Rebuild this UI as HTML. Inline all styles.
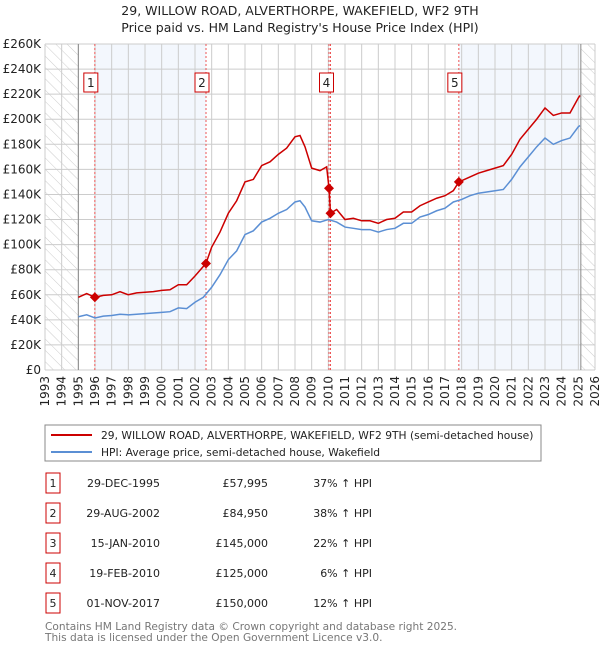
<!DOCTYPE html>
<html><head><meta charset="utf-8"><style>
body{margin:0;background:#fff;font-family:"Liberation Sans","DejaVu Sans",sans-serif;}
svg text{font-family:"DejaVu Sans","Liberation Sans",sans-serif;}
</style></head><body>
<svg id="c" width="600" height="650" xmlns="http://www.w3.org/2000/svg">
<defs><pattern id="hatch" width="8" height="8" patternUnits="userSpaceOnUse" patternTransform="rotate(-45)"><line x1="0" y1="0" x2="0" y2="8" stroke="#ccc" stroke-width="1"/></pattern></defs>
<text x="300" y="15" text-anchor="middle" font-size="12.5" fill="#222">29, WILLOW ROAD, ALVERTHORPE, WAKEFIELD, WF2 9TH</text>
<text x="300" y="32" text-anchor="middle" font-size="12.5" fill="#222">Price paid vs. HM Land Registry's House Price Index (HPI)</text>
<g id="plot"></g>
<rect x="45" y="425" width="496" height="36" fill="#fff" stroke="#888"/>
<line x1="51" y1="435" x2="92" y2="435" stroke="#cc0000" stroke-width="2"/>
<text x="101" y="439" font-size="10.7" fill="#222">29, WILLOW ROAD, ALVERTHORPE, WAKEFIELD, WF2 9TH (semi-detached house)</text>
<line x1="51" y1="452" x2="92" y2="452" stroke="#5b8fd4" stroke-width="2"/>
<text x="101" y="456" font-size="10.7" fill="#222">HPI: Average price, semi-detached house, Wakefield</text>
<g id="table"></g>
<text x="45" y="630" font-size="10.6" fill="#777">Contains HM Land Registry data © Crown copyright and database right 2025.</text>
<text x="45" y="641" font-size="10.6" fill="#777">This data is licensed under the Open Government Licence v3.0.</text>
</svg>
<script>
const hpiYears=[1995,1995.5,1996,1996.5,1997,1997.5,1998,1998.5,1999,1999.5,2000,2000.5,2001,2001.5,2002,2002.5,2003,2003.5,2004,2004.5,2005,2005.5,2006,2006.5,2007,2007.5,2008,2008.3,2008.6,2009,2009.5,2010,2010.5,2011,2011.5,2012,2012.5,2013,2013.5,2014,2014.5,2015,2015.5,2016,2016.5,2017,2017.5,2018,2018.5,2019,2019.5,2020,2020.5,2021,2021.5,2022,2022.5,2023,2023.5,2024,2024.5,2025,2025.1];
const hpiValues=[42.5,44,41.5,43,43.5,44.5,44,44.5,45,45.5,46,46.5,49.5,49,54,58,66,76,88,95,108,111,118,121,125,128,134,135,130,119,118,120,118,114,113,112,112,110,112,113,117,117,122,124,127,129,134,136,139,141,142,143,144,152,162,170,178,185,180,183,185,194,195];
const priceYears=[1995,1995.5,1996,1996.5,1997,1997.5,1998,1998.5,1999,1999.5,2000,2000.5,2001,2001.5,2002,2002.66,2003,2003.5,2004,2004.5,2005,2005.5,2006,2006.5,2007,2007.5,2008,2008.3,2008.6,2009,2009.5,2009.9,2010.04,2010.13,2010.5,2011,2011.5,2012,2012.5,2013,2013.5,2014,2014.5,2015,2015.5,2016,2016.5,2017,2017.5,2017.83,2018.5,2019,2019.5,2020,2020.5,2021,2021.5,2022,2022.5,2023,2023.5,2024,2024.5,2025,2025.1];
const priceValues=[58,61,58,59.5,60,62.5,60,61.5,62,62.5,63.5,64,68,68,75,85,98,110,125,135,150,152,163,166,172,177,186,187,178,161,159,162,145,125,128,120,121,119,119,117,120,121,126,126,131,134,137,139,143,150,154,157,159,161,163,172,184,192,200,209,203,205,205,217,219];
const saleLabels=["1","2","3","4","5"];
const saleDates=["29-DEC-1995","29-AUG-2002","15-JAN-2010","19-FEB-2010","01-NOV-2017"];
const saleYears=[1995.99,2002.66,2010.04,2010.13,2017.83];
const salePrices=[57.995,84.95,145,125,150];
const salePriceText=["£57,995","£84,950","£145,000","£125,000","£150,000"];
const saleHpiText=["37% ↑ HPI","38% ↑ HPI","22% ↑ HPI","6% ↑ HPI","12% ↑ HPI"];
const yTicks=[0,20,40,60,80,100,120,140,160,180,200,220,240,260];
const yTickLabels=["£0","£20K","£40K","£60K","£80K","£100K","£120K","£140K","£160K","£180K","£200K","£220K","£240K","£260K"];
const xTicks=[];for(let y=1993;y<=2026;y++)xTicks.push(y);

const X0=45,X1=595,Y0=370,Y1=44;
const xs=y=>X0+(y-1993)/(2026-1993)*(X1-X0);
const ys=v=>Y0-v/260*(Y0-Y1);
const NS="http://www.w3.org/2000/svg";
const plot=document.getElementById('plot');
function mk(tag,attrs,parent){const e=document.createElementNS(NS,tag);for(const k in attrs)e.setAttribute(k,attrs[k]);(parent||plot).appendChild(e);return e;}

let r;
r=mk('rect',{x:xs(saleYears[0]),y:Y1,width:xs(saleYears[1])-xs(saleYears[0]),height:Y0-Y1,fill:'#eef3fc',opacity:0.7});


r=mk('rect',{x:xs(saleYears[4]),y:Y1,width:xs(2025.1)-xs(saleYears[4]),height:Y0-Y1,fill:'#eef3fc',opacity:0.7});


r=mk('rect',{x:X0,y:Y1,width:xs(1995)-X0,height:Y0-Y1,fill:'url(#hatch)'});


r=mk('rect',{x:xs(2025.15),y:Y1,width:X1-xs(2025.15),height:Y0-Y1,fill:'url(#hatch)'});



yTicks.forEach((v,i)=>{
 const l=mk('line',{x1:X0,x2:X1,y1:ys(v),y2:ys(v),stroke:'#ccc','stroke-width':1});
 
 
 const t=mk('text',{x:X0-4,y:ys(v)+4,'text-anchor':'end','font-size':12,fill:'#222'});
 t.textContent=yTickLabels[i];
 
 
});
xTicks.forEach(y=>{
 const l=mk('line',{x1:xs(y),x2:xs(y),y1:Y1,y2:Y0,stroke:'#ccc','stroke-width':1});
 
 
 const t=mk('text',{x:0,y:0,'text-anchor':'end','font-size':12,fill:'#222',transform:`translate(${xs(y)+4},${Y0+6}) rotate(-90)`});
 t.textContent=y;
 
 
});
r=mk('line',{x1:xs(1995),x2:xs(1995),y1:Y1,y2:Y0,stroke:'#888'});


r=mk('line',{x1:xs(2025.15),x2:xs(2025.15),y1:Y1,y2:Y0,stroke:'#888'});



saleYears.forEach((y,i)=>{
 const l=mk('line',{x1:xs(y),x2:xs(y),y1:Y1,y2:Y0,stroke:'#e55','stroke-width':1,'stroke-dasharray':'2,2'});
 
 
});

const hp=mk('polyline',{points:hpiYears.map((y,i)=>xs(y)+','+ys(hpiValues[i])).join(' '),fill:'none',stroke:'#5b8fd4','stroke-width':1.5});


const pp=mk('polyline',{points:priceYears.map((y,i)=>xs(y)+','+ys(priceValues[i])).join(' '),fill:'none',stroke:'#cc0000','stroke-width':1.5});



saleYears.forEach((y,i)=>{
 const cx=xs(y),cy=ys(salePrices[i]);
 const d=mk('polygon',{points:`${cx},${cy-5} ${cx+5},${cy} ${cx},${cy+5} ${cx-5},${cy}`,fill:'#cc0000'});
 
 
 if(i===2)return;
 const b=mk('rect',{x:cx-11,y:73,width:14,height:19,fill:'#fff',stroke:'#cc0000'});
 
 
 const t=mk('text',{x:cx-4,y:87,'text-anchor':'middle','font-size':12,fill:'#222'});
 t.textContent=saleLabels[i];
 
 
});

const tb=document.getElementById('table');
saleLabels.forEach((s,i)=>{
 const y=483+i*30;
 const b=mk('rect',{x:46,y:y-10,width:14,height:20,fill:'#fff',stroke:'#cc0000'},tb);
 
 
 const cols=[[53,'middle',s],[160,'end',saleDates[i]],[268,'end',salePriceText[i]],[372,'end',saleHpiText[i]]];
 cols.forEach((c,j)=>{
  const t=mk('text',{x:c[0],y:y+4,'text-anchor':c[1],'font-size':11,fill:'#222'},tb);
  t.textContent=c[2];
  
  
 });
});
</script>
</body></html>
